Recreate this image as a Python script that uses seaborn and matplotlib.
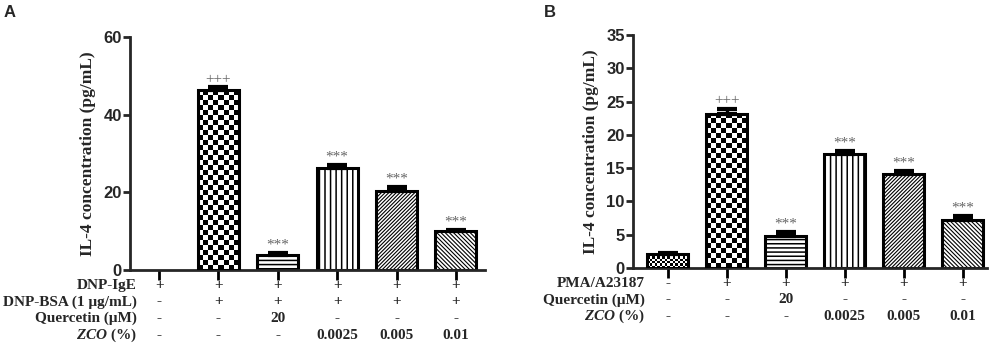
import numpy as np
import matplotlib
matplotlib.use("Agg")
import matplotlib.pyplot as plt
import seaborn as sns

# ---- data ----
groups = ["G1", "G2", "G3", "G4", "G5", "G6"]

il4_a = [0.0, 46.2, 3.9, 26.3, 20.2, 10.0]
sem_a = [0.0, 0.8, 0.5, 0.8, 1.2, 0.4]
sig_a = ["", "+++", "***", "***", "***", "***"]

il4_b = [2.1, 23.2, 4.8, 17.1, 14.1, 7.2]
sem_b = [0.2, 0.7, 0.6, 0.5, 0.5, 0.6]
sig_b = ["", "+++", "***", "***", "***", "***"]

dnp_ige = ["+", "+", "+", "+", "+", "+"]
dnp_bsa = ["-", "+", "+", "+", "+", "+"]
pma = ["-", "+", "+", "+", "+", "+"]
quercetin = ["-", "-", "20", "-", "-", "-"]
zco = ["-", "-", "-", "0.0025", "0.005", "0.01"]

rows_a = [("DNP-IgE", dnp_ige), ("DNP-BSA (1 \u03bcg/mL)", dnp_bsa),
          ("Quercetin (\u03bcM)", quercetin), (r"$\mathit{ZCO}$ (%)", zco)]
rows_b = [("PMA/A23187", pma), ("Quercetin (\u03bcM)", quercetin),
          (r"$\mathit{ZCO}$ (%)", zco)]

# fill style per bar: (hatch, checker cell size in px or None)
fills_a = [("", None), ("", 5), ("----", None), ("|||", None), ("/" * 9, None), ("\\" * 8, None)]
fills_b = [("", 2.5), ("", 5), ("----", None), ("|||", None), ("/" * 9, None), ("\\" * 8, None)]

sns.set_style("ticks")
plt.rcParams["font.family"] = ["Liberation Serif", "DejaVu Serif"]
plt.rcParams["mathtext.fontset"] = "custom"
plt.rcParams["mathtext.it"] = "Liberation Serif:italic:bold"
plt.rcParams["mathtext.rm"] = "Liberation Serif:bold"
plt.rcParams["hatch.linewidth"] = 1.1

SANS = ["Liberation Sans", "DejaVu Sans"]

fig = plt.figure(figsize=(10, 3.47), dpi=100)
ax_a = fig.add_axes([0.130, 0.222, 0.355, 0.672])
ax_b = fig.add_axes([0.633, 0.228, 0.354, 0.671])


def checker_fill(ax, patch, cell_px):
    x0, y0 = patch.get_x(), patch.get_y()
    w, h = patch.get_width(), patch.get_height()
    p0 = ax.transData.transform((x0, y0))
    p1 = ax.transData.transform((x0 + w, y0 + h))
    nx = max(1, int(round(abs(p1[0] - p0[0]) / cell_px)))
    ny = max(1, int(round(abs(p1[1] - p0[1]) / cell_px)))
    board = (np.add.outer(np.arange(ny), np.arange(nx)) % 2).astype(float)
    im = ax.imshow(board, extent=(x0, x0 + w, y0, y0 + h), cmap="gray",
                   interpolation="nearest", aspect="auto", zorder=2, origin="lower")
    im.set_clip_path(patch)
    patch.set_facecolor("none")
    patch.set_zorder(3)


def draw_panel(ax, values, errs, sigs, fills, xlim, yticks, rows, label_x, letter, letter_xy):
    sns.barplot(x=groups, y=values, color="white", edgecolor="black",
                linewidth=2.2, width=0.69, errorbar=None, ax=ax, saturation=1)
    ax.set_xlim(*xlim)
    ax.set_ylim(0, yticks[-1])
    ax.set_yticks(yticks)
    ax.set_xticks(range(len(groups)))
    ax.set_xticklabels([])
    ax.set_xlabel("")
    for p, (hatch, cell), v in zip(ax.patches, fills, values):
        p.set_facecolor("white")
        p.set_edgecolor("black")
        if v <= 0:
            p.set_visible(False)
        if hatch:
            p.set_hatch(hatch)
            if hatch[0] in "/\\" and hasattr(p, "set_hatch_linewidth"):
                p.set_hatch_linewidth(0.8)

    idx = [i for i, e in enumerate(errs) if e > 0]
    ax.errorbar(idx, [values[i] for i in idx],
                yerr=[np.zeros(len(idx)), [errs[i] for i in idx]],
                fmt="none", ecolor="black", elinewidth=2.4, capsize=7.5,
                capthick=3, zorder=4)
    for i, (v, e, s) in enumerate(zip(values, errs, sigs)):
        if s:
            ax.annotate(s, xy=(i, v + e), xytext=(0, 1), textcoords="offset points",
                        ha="center", va="bottom", fontsize=11, color="#666666")

    for side in ["top", "right"]:
        ax.spines[side].set_visible(False)
    for side in ["left", "bottom"]:
        ax.spines[side].set_linewidth(2)
    ax.tick_params(axis="x", length=7, width=2, direction="out", color="black")
    ax.tick_params(axis="y", length=5, width=2, direction="out", labelsize=12, pad=1)
    for t in ax.get_yticklabels():
        t.set_fontweight("bold")
        t.set_family(SANS)
    ax.set_ylabel("IL-4 concentration (pg/mL)", fontsize=12.5, fontweight="bold", labelpad=5)

    for r, (name, vals) in enumerate(rows):
        off = -11 - 12 * r
        ax.annotate(name, xy=(label_x, 0), xycoords="axes fraction", xytext=(0, off),
                    textcoords="offset points", ha="right", va="center",
                    fontsize=11, fontweight="bold")
        for i, v in enumerate(vals):
            ax.annotate(v, xy=(i, 0), xycoords=("data", "axes fraction"), xytext=(0, off),
                        textcoords="offset points", ha="center", va="center",
                        fontsize=11, fontweight="bold")

    fig.text(letter_xy[0], letter_xy[1], letter, fontsize=12, fontweight="bold",
             family=SANS, ha="left", va="center")


draw_panel(ax_a, il4_a, sem_a, sig_a, fills_a, (-0.49, 5.49), [0, 20, 40, 60],
           rows_a, 0.02, "A", (0.004, 0.965))
draw_panel(ax_b, il4_b, sem_b, sig_b, fills_b, (-0.59, 5.41), [0, 5, 10, 15, 20, 25, 30, 35],
           rows_b, 0.034, "B", (0.544, 0.965))

for ax, fills in [(ax_a, fills_a), (ax_b, fills_b)]:
    for p, (hatch, cell) in zip(ax.patches[:len(groups)], fills):
        if cell and p.get_height() > 0:
            checker_fill(ax, p, cell)
ax_a.set_xlim(-0.49, 5.49)
ax_a.set_ylim(0, 60)
ax_b.set_xlim(-0.59, 5.41)
ax_b.set_ylim(0, 35)

fig.savefig("out.png", dpi=100)
